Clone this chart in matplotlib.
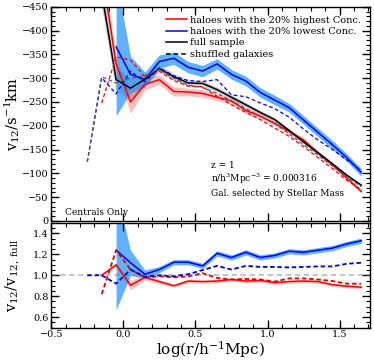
import numpy as np
import matplotlib
matplotlib.use('Agg')
import matplotlib.pyplot as plt
from matplotlib.ticker import MultipleLocator

plt.rcParams['font.family'] = ['DejaVu Serif']
plt.rcParams['mathtext.fontset'] = 'dejavuserif'

nan = np.nan
# bin centres in log(r/h^-1 Mpc)
logr = [-0.25, -0.15, -0.05, 0.05, 0.15, 0.25, 0.35, 0.45, 0.55, 0.65,
        0.75, 0.85, 0.95, 1.05, 1.15, 1.25, 1.35, 1.45, 1.55, 1.65]

# top panel: pairwise velocity v12 [km/s]
v_full = [nan, -480, -297, -279, -298, -320, -303, -290, -289, -276,
          -260, -244, -228, -213, -190, -166, -143, -120, -96, -75]
e_full = [nan, 30, 25, 22, 12, 8, 7, 6, 6, 5, 5, 5, 4, 4, 4, 4, 4, 3, 3, 3]
v_high = [nan, -530, -330, -250, -287, -297, -272, -271, -268, -260,
          -252, -232, -220, -205, -188, -170, -143, -118, -90, -62]
e_high = [nan, 20, 15, 24, 12, 10, 10, 8, 8, 7, 7, 6, 6, 5, 5, 5, 4, 4, 4, 4]
v_low = [nan, nan, -366, -308, -297, -335, -342, -323, -315, -330,
         -308, -294, -270, -254, -238, -212, -186, -160, -133, -102]
e_low = [nan, nan, 145, 38, 16, 14, 13, 12, 12, 11, 10, 10, 10, 10, 9, 9, 9, 9, 8, 8]

# shuffled galaxies
vs_full = [-124, -303, -290, -300, -305, -318, -300, -285, -280, -268,
           -252, -236, -220, -205, -183, -160, -138, -115, -92, -72]
vs_high = [nan, -248, -345, -338, -303, -315, -295, -283, -282, -262,
           -244, -228, -213, -195, -178, -156, -133, -110, -85, -66]
vs_low = [-124, -301, -267, -315, -292, -322, -305, -295, -293, -297,
          -265, -261, -248, -236, -218, -193, -170, -150, -128, -106]

# bottom panel: ratio to full sample
r_high = [nan, 1.0, 1.10, 0.905, 0.98, 0.94, 0.90, 0.945, 0.94, 0.945,
          0.96, 0.945, 0.95, 0.93, 0.94, 0.945, 0.94, 0.91, 0.896, 0.886]
er_high = [nan, 0.0, 0.02, 0.045, 0.025, 0.02, 0.015, 0.015, 0.015, 0.015,
           0.015, 0.015, 0.015, 0.015, 0.015, 0.015, 0.015, 0.015, 0.015, 0.015]
r_low = [nan, nan, 1.24, 1.12, 1.01, 1.055, 1.125, 1.125, 1.09, 1.21,
         1.17, 1.22, 1.17, 1.19, 1.23, 1.22, 1.24, 1.26, 1.30, 1.33]
er_low = [nan, nan, 0.57, 0.12, 0.04, 0.03, 0.025, 0.025, 0.025, 0.025,
          0.025, 0.025, 0.025, 0.025, 0.025, 0.025, 0.025, 0.025, 0.025, 0.025]
rs_high = [nan, 0.82, 1.24, 1.055, 0.98, 0.99, 0.98, 0.99, 1.02, 0.975,
           0.96, 0.965, 0.96, 0.94, 0.97, 0.97, 0.96, 0.945, 0.92, 0.92]
rs_low = [1.0, 1.0, 0.92, 1.055, 0.985, 1.0, 0.99, 1.01, 1.05, 1.09,
          1.055, 1.09, 1.08, 1.08, 1.075, 1.08, 1.085, 1.085, 1.11, 1.12]

x = np.array(logr)

fig = plt.figure(figsize=(3.74, 3.62), dpi=100)
ax1 = fig.add_axes([0.137, 0.390, 0.852, 0.591])
ax2 = fig.add_axes([0.137, 0.095, 0.852, 0.289])

# top panel
for v, e, fc, a in [(v_full, e_full, 'k', 0.2),
                    (v_high, e_high, 'r', 0.25),
                    (v_low, e_low, 'dodgerblue', 0.7)]:
    v = np.array(v); e = np.array(e)
    ax1.fill_between(x, v - e, v + e, color=fc, alpha=a, lw=0)
ax1.plot(x, v_high, color='r', lw=1.1, label='haloes with the 20% highest Conc.')
ax1.plot(x, v_low, color='#0000ee', lw=1.1, label='haloes with the 20% lowest Conc.')
ax1.plot(x, v_full, color='k', lw=1.1, label='full sample')
ax1.plot(x, vs_high, color='r', lw=0.9, ls='--', dashes=(3, 2))
ax1.plot(x, vs_low, color='#0000ee', lw=0.9, ls='--', dashes=(3, 2))
ax1.plot(x, vs_full, color='#55556e', lw=0.9, ls='--', dashes=(3, 2))
ax1.plot([], [], color='k', lw=1.1, ls='--', dashes=(3, 2), label='shuffled galaxies')

ax1.set_xlim(-0.5, 1.71)
ax1.set_ylim(0, -450)
ax1.set_ylabel(r'v$_{12}$/s$^{-1}$km', fontsize=10.5)
ax1.legend(loc='upper right', fontsize=7, frameon=False, handlelength=2.2,
           handletextpad=0.3, labelspacing=0.25, borderaxespad=0.5)
ax1.text(0.5, 0.245, 'z = 1', transform=ax1.transAxes, fontsize=6.5)
ax1.text(0.5, 0.18, r'n/h$^3$Mpc$^{-3}$ = 0.000316', transform=ax1.transAxes, fontsize=6.5)
ax1.text(0.5, 0.115, 'Gal. selected by Stellar Mass', transform=ax1.transAxes, fontsize=6.5)
ax1.text(0.044, 0.025, 'Centrals Only', transform=ax1.transAxes, fontsize=6.5)
ax1.yaxis.set_major_locator(MultipleLocator(50))
ax1.yaxis.set_minor_locator(MultipleLocator(10))
ax1.tick_params(labelbottom=False)

# bottom panel
ax2.axhline(1.0, color='grey', alpha=0.5, lw=1.3, ls='--', dashes=(3, 2))
for r, e, fc, a in [(r_high, er_high, 'r', 0.25), (r_low, er_low, 'dodgerblue', 0.7)]:
    r = np.array(r); e = np.array(e)
    ax2.fill_between(x, r - e, r + e, color=fc, alpha=a, lw=0)
ax2.plot(x, r_high, color='r', lw=1.1)
ax2.plot(x, r_low, color='#0000ee', lw=1.1)
ax2.plot(x, rs_high, color='#dd0000', lw=1.3, ls='--', dashes=(2.5, 1.5))
ax2.plot(x, rs_low, color='#0000cc', lw=1.3, ls='--', dashes=(2.5, 1.5))
ax2.set_xlim(-0.5, 1.71)
ax2.set_ylim(0.5, 1.5)
ax2.set_xlabel(r'log(r/h$^{-1}$Mpc)', fontsize=11, labelpad=0)
ax2.set_ylabel(r'v$_{12}$/v$_{12,\,\rm full}$', fontsize=10.5)
ax2.yaxis.set_minor_locator(MultipleLocator(0.05))
ax2.set_yticks([0.6, 0.8, 1.0, 1.2, 1.4])

for ax in (ax1, ax2):
    ax.xaxis.set_major_locator(MultipleLocator(0.5))
    ax.xaxis.set_minor_locator(MultipleLocator(0.1))
    ax.tick_params(which='both', direction='in', top=True, right=True, labelsize=7)
    ax.tick_params(which='major', length=6, width=1, pad=2)
    ax.tick_params(which='minor', length=3, width=0.8)
    for s in ax.spines.values():
        s.set_linewidth(1)
ax1.yaxis.set_label_coords(-0.092, 0.5)
ax2.yaxis.set_label_coords(-0.092, 0.5)

fig.savefig('out.png', dpi=100)
